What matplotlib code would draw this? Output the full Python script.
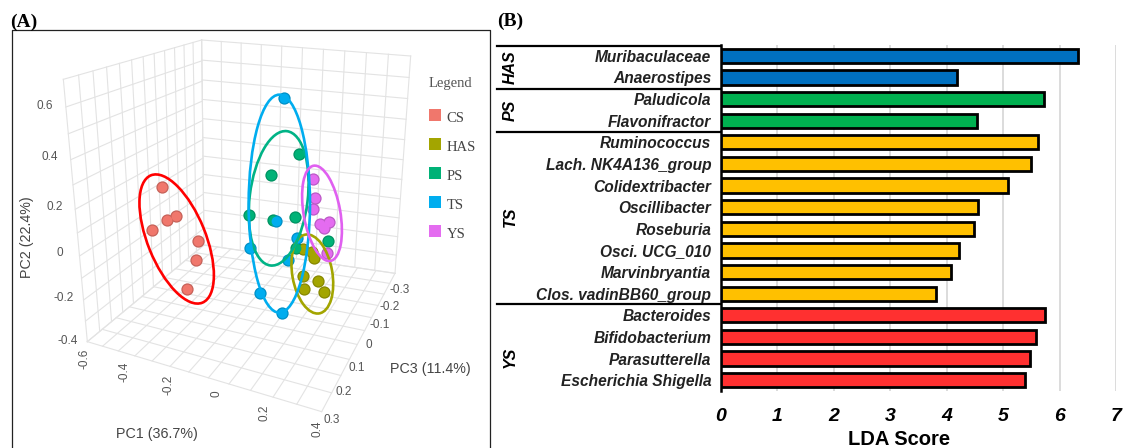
import numpy as np
import matplotlib
matplotlib.use("Agg")
import matplotlib.pyplot as plt
from matplotlib.patches import Ellipse, Rectangle

# panel A: everything, in 3x pixel units
groups = ["CS", "HAS", "PS", "TS", "YS"]
colors = ["#F0776C", "#A3A500", "#00B277", "#00ADEF", "#E46CF0"]
cs_x = [485, 456, 500, 528, 595, 587, 560]
cs_y = [561, 691, 661, 649, 724, 781, 868]
has_x = [910, 935, 942, 908, 955, 912, 972]
has_y = [748, 755, 775, 828, 842, 868, 875]
ps_x = [898, 812, 746, 820, 885, 984, 888]
ps_y = [461, 524, 644, 661, 650, 723, 745]
ts_x = [852, 828, 890, 749, 865, 779, 846]
ts_y = [294, 663, 715, 745, 780, 880, 938]
ys_x = [939, 946, 938, 959, 988, 972, 980]
ys_y = [537, 595, 627, 671, 665, 684, 760]
xs = [cs_x, has_x, ps_x, ts_x, ys_x]
ys = [cs_y, has_y, ps_y, ts_y, ys_y]

# ellipses: centre x, centre y, major, minor, angle
ell_colors = ["#FF0000", "#A3A500", "#00B386", "#00ADEF", "#E060F0"]
ell_cx = [530, 937, 836, 838, 966]
ell_cy = [717, 822, 595, 611, 640]
ell_a = [412, 240, 406, 654, 290]
ell_b = [174, 120, 174, 184, 110]
ell_ang = [68, 80, 97, 90, 80]

pc2_ticks = ["0.6", "0.4", "0.2", "0", "-0.2", "-0.4"]
pc2_x = [135, 150, 165, 178, 192, 204]
pc2_y = [317, 472, 620, 760, 893, 1022]
pc1_ticks = ["-0.6", "-0.4", "-0.2", "0", "0.2", "0.4"]
pc1_x = [253, 375, 507, 648, 795, 953]
pc1_y = [1075, 1115, 1155, 1180, 1238, 1285]
pc3_ticks = ["-0.3", "-0.2", "-0.1", "0", "0.1", "0.2", "0.3"]
pc3_x = [1198, 1170, 1140, 1107, 1070, 1030, 996]
pc3_y = [870, 920, 975, 1035, 1103, 1177, 1260]

# panel B
taxa = ["Muribaculaceae", "Anaerostipes", "Paludicola", "Flavonifractor", "Ruminococcus",
        "Lach. NK4A136_group", "Colidextribacter", "Oscillibacter", "Roseburia", "Osci. UCG_010",
        "Marvinbryantia", "Clos. vadinBB60_group", "Bacteroides", "Bifidobacterium",
        "Parasutterella", "Escherichia Shigella"]
lda = [6.33, 4.18, 5.72, 4.53, 5.62, 5.49, 5.08, 4.56, 4.48, 4.22, 4.08, 3.81, 5.75, 5.59, 5.47, 5.39]
bar_group = ["HAS"] * 2 + ["PS"] * 2 + ["TS"] * 8 + ["YS"] * 4
bar_colors = {"HAS": "#0070C0", "PS": "#00B050", "TS": "#FFC000", "YS": "#FF3030"}

W, H = 1126, 448
fig = plt.figure(figsize=(W / 100, H / 100), dpi=100)
bg = fig.add_axes([0, 0, 1, 1]); bg.set_xlim(0, W); bg.set_ylim(H, 0); bg.axis("off")
bg.plot([12, 12, 490, 490], [H, 30.5, 30.5, H], color="#222222", lw=0.9)
bg.text(10, 22, "(A)", family="Liberation Serif", weight="bold", fontsize=14, va="center")
bg.text(497, 21, "(B)", family="Liberation Serif", weight="bold", fontsize=14, va="center")

ax = fig.add_axes([0, 0, 500 / W, 1]); ax.set_xlim(0, 1500); ax.set_ylim(1344, 0)
ax.axis("off"); ax.patch.set_alpha(0)

def homog(q):
    # unit square -> quad
    A, b = [], []
    for (u, v), (x, y) in zip([(0, 0), (1, 0), (1, 1), (0, 1)], q):
        A.append([u, v, 1, 0, 0, 0, -u * x, -v * x]); b.append(x)
        A.append([0, 0, 0, u, v, 1, -u * y, -v * y]); b.append(y)
    return np.append(np.linalg.solve(np.array(A, float), np.array(b, float)), 1).reshape(3, 3)

def wall(q, nu, nv):
    m = homog(q)
    def pt(u, v):
        p = m @ [u, v, 1]
        return p[0] / p[2], p[1] / p[2]
    for i in range(nu + 1):
        a, b = pt(i / nu, 0), pt(i / nu, 1)
        ax.plot([a[0], b[0]], [a[1], b[1]], color="#E3E3E3", lw=0.8, zorder=1)
    for j in range(nv + 1):
        a, b = pt(0, j / nv), pt(1, j / nv)
        ax.plot([a[0], b[0]], [a[1], b[1]], color="#E3E3E3", lw=0.8, zorder=1)

wall([(190, 238), (605, 120), (612, 735), (262, 1025)], 12, 11)
wall([(605, 120), (1232, 168), (1185, 820), (612, 735)], 10, 11)
wall([(262, 1025), (612, 735), (1185, 820), (965, 1235)], 10, 12)

for x, y, c in zip(xs, ys, colors):
    dark = tuple(0.82 * v for v in matplotlib.colors.to_rgb(c))
    ax.scatter(x, y, s=78, color=dark, lw=0, zorder=3)
    ax.scatter(x, y, s=50, color=c, lw=0, zorder=4)
for cx, cy, a, b, ang, c in zip(ell_cx, ell_cy, ell_a, ell_b, ell_ang, ell_colors):
    ax.add_patch(Ellipse((cx, cy), a, b, angle=ang, fill=False, ec=c, lw=1.9, zorder=5))

tick_kw = dict(family="Liberation Sans", fontsize=8.5, color="#555555", ha="center", va="center")
for t, x, y in zip(pc2_ticks, pc2_x, pc2_y):
    ax.text(x, y, t, **tick_kw)
for t, x, y in zip(pc1_ticks, pc1_x, pc1_y):
    ax.text(x, y, t, rotation=90, **tick_kw)
for t, x, y in zip(pc3_ticks, pc3_x, pc3_y):
    ax.text(x, y, t, **tick_kw)
lab_kw = dict(family="Liberation Sans", fontsize=10.3, color="#444444", ha="center", va="center")
ax.text(80, 712, "PC2 (22.4%)", rotation=90, **lab_kw)
ax.text(470, 1302, "PC1 (36.7%)", **lab_kw)
ax.text(1290, 1107, "PC3 (11.4%)", **lab_kw)

ax.text(1350, 252, "Legend", family="Liberation Serif", fontsize=10.5, color="#555555", ha="center", va="center")
for i, (g, c) in enumerate(zip(groups, colors)):
    yy = 346 + i * 87
    ax.add_patch(Rectangle((1287, yy - 18), 36, 36, color=c, lw=0, zorder=3))
    ax.text(1340, yy + 8, g, family="Liberation Serif", fontsize=10.5, color="#444444", va="center")

# panel B
bx = fig.add_axes([721 / W, 1 - 391 / H, 395 / W, 346 / H])
pos = np.arange(len(taxa))
bx.barh(pos, lda, height=0.66, color=[bar_colors[g] for g in bar_group], edgecolor="black", lw=2.0, zorder=3)
bx.set_xlim(0, 7); bx.set_ylim(15.5, -0.5)
bx.set_xticks(range(8)); bx.grid(axis="x", color="#D9D9D9", lw=1.3, zorder=0)
bx.tick_params(length=0)
for s in ["top", "right", "bottom"]:
    bx.spines[s].set_visible(False)
bx.spines["left"].set_linewidth(1.8)
bx.set_yticks(pos)
bx.set_yticklabels(taxa, family="Liberation Sans", style="italic", weight="bold", fontsize=11.2, color="#222222")
bx.tick_params(axis="y", pad=7)
bx.set_xticklabels(range(8), family="Liberation Sans", style="italic", weight="bold", fontsize=14, color="black")
bx.tick_params(axis="x", pad=12)
bx.set_xlabel("LDA Score", family="Liberation Sans", weight="bold", fontsize=14.5)
bx.xaxis.set_label_coords((899 - 721) / 395, -0.112)

for y in [45.7, 89, 132, 304]:
    bg.plot([497, 721], [y, y], color="black", lw=1.6)
group_names = ["HAS", "PS", "TS", "YS"]
group_y = [67, 110, 217, 357]
for g, y in zip(group_names, group_y):
    bg.text(510, y, g, rotation=90, family="Liberation Sans", style="italic", weight="bold",
            fontsize=11.5, ha="center", va="center")

fig.savefig("out.png", dpi=100)
